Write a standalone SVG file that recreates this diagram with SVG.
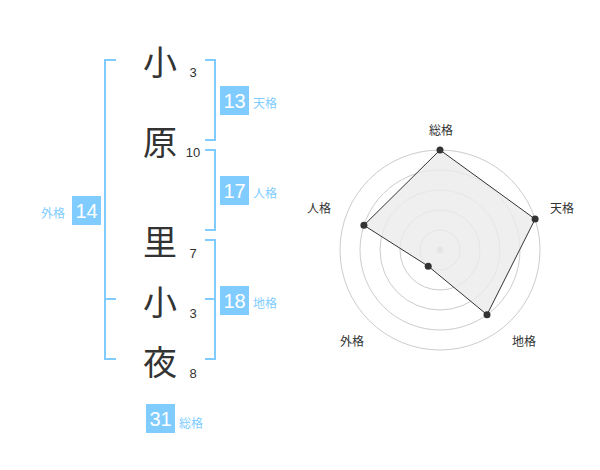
<svg xmlns="http://www.w3.org/2000/svg" width="600" height="470" viewBox="0 0 600 470">
<style>
.ch{font-family:"Noto Sans CJK JP","Noto Sans CJK SC",sans-serif;font-size:34px;fill:#333;text-anchor:middle}
.num{font-family:"Liberation Sans",Arial,sans-serif;font-size:13px;fill:#333;text-anchor:middle}
.br{fill:none;stroke:#80ccff;stroke-width:2}
.box{fill:#80ccff}
.bn{font-family:"Liberation Sans",Arial,sans-serif;font-size:20px;fill:#fff;text-anchor:middle}
.lb{font-family:"Noto Sans CJK JP","Noto Sans CJK SC",sans-serif;font-size:12px;fill:#80ccff}
.rl{font-family:"Noto Sans CJK JP","Noto Sans CJK SC",sans-serif;font-size:12px;fill:#333;text-anchor:middle}
.ring{fill:none;stroke:#ccc;stroke-width:1}
</style>
<g id="name">
<text class="ch" x="160" y="75">小</text>
<text class="ch" x="160" y="155">原</text>
<text class="ch" x="160" y="255">里</text>
<text class="ch" x="160" y="315">小</text>
<text class="ch" x="160" y="375">夜</text>
<text class="num" x="193" y="77">3</text>
<text class="num" x="193" y="157">10</text>
<text class="num" x="193" y="258">7</text>
<text class="num" x="193" y="318">3</text>
<text class="num" x="193" y="378">8</text>
</g>
<g id="connectors">
<path class="br" d="M116,60 H105 V359 H116 M105,299 H116"/>
<path class="br" d="M205,60 H215 V140 H205"/>
<path class="br" d="M205,150 H215 V230 H205"/>
<path class="br" d="M205,240 H215 V359 H205 M205,299 H215"/>
</g>
<g id="tenkaku">
<rect class="box" x="220" y="86" width="29" height="29"/>
<text class="bn" x="234.5" y="107.5">13</text>
<text class="lb" x="253" y="108">天格</text>
</g>
<g id="jinkaku">
<rect class="box" x="220" y="176" width="29" height="29"/>
<text class="bn" x="234.5" y="197.5">17</text>
<text class="lb" x="253" y="198">人格</text>
</g>
<g id="chikaku">
<rect class="box" x="220" y="286" width="29" height="29"/>
<text class="bn" x="234.5" y="307.5">18</text>
<text class="lb" x="253" y="308">地格</text>
</g>
<g id="gaikaku">
<rect class="box" x="72" y="196" width="29" height="29"/>
<text class="bn" x="86.5" y="217.5">14</text>
<text class="lb" x="41" y="218">外格</text>
</g>
<g id="soukaku">
<rect class="box" x="146" y="404" width="29" height="29"/>
<text class="bn" x="160.5" y="425.5">31</text>
<text class="lb" x="179" y="428">総格</text>
</g>
<g id="radar">
<circle class="ring" cx="440" cy="250" r="20"/>
<circle class="ring" cx="440" cy="250" r="40"/>
<circle class="ring" cx="440" cy="250" r="60"/>
<circle class="ring" cx="440" cy="250" r="80"/>
<circle class="ring" cx="440" cy="250" r="100"/>
<circle cx="440" cy="250" r="3.5" fill="#ccc"/>
<polygon points="440,150 535.1,219.1 487,314.7 428.2,266.2 363.9,225.3" fill="#ebebeb" fill-opacity="0.8" stroke="#333" stroke-width="1"/>
<g fill="#333">
<circle cx="440" cy="150" r="3.5"/>
<circle cx="535.1" cy="219.1" r="3.5"/>
<circle cx="487" cy="314.7" r="3.5"/>
<circle cx="428.2" cy="266.2" r="3.5"/>
<circle cx="363.9" cy="225.3" r="3.5"/>
</g>
<text class="rl" x="441" y="135">総格</text>
<text class="rl" x="562" y="213">天格</text>
<text class="rl" x="524" y="346">地格</text>
<text class="rl" x="352" y="346">外格</text>
<text class="rl" x="319" y="213">人格</text>
</g>
</svg>
